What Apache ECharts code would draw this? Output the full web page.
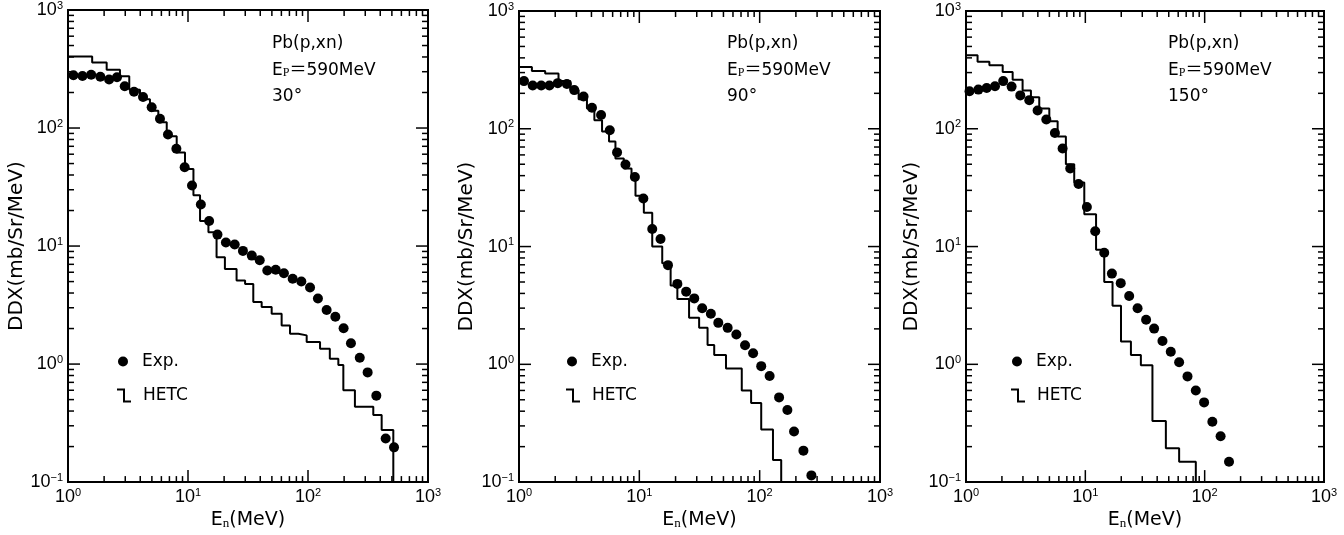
<!DOCTYPE html>
<html>
<head>
<meta charset="utf-8">
<script src="https://cdn.jsdelivr.net/npm/echarts@6/dist/echarts.min.js"></script>
<style>
  html, body { margin: 0; padding: 0; background: #fff; }
  #container { width: 1344px; height: 535px; }
</style>
</head>
<body>
<div id="container"></div>
<script>
// Pb(p,xn) a 590 MeV: DDX medido (Exp.) frente al calculo HETC, tres angulos
var angles = ['30°', '90°', '150°'];

// Exp. 30 grados
var exp30X = [1.11, 1.32, 1.56, 1.86, 2.2, 2.56, 2.97, 3.55, 4.22, 4.98, 5.84, 6.81, 8.0, 9.38, 10.8, 12.8, 15.0, 17.6, 20.7, 24.5,
  28.7, 34, 39.6, 45.8, 53.8, 63, 74.5, 88, 104, 121, 143, 169, 198, 228, 270, 314, 371, 444, 521];
var exp30Y = [280, 276, 283, 272, 258, 269, 226, 203, 183, 150, 120, 88, 66.7, 46.6, 32.6, 22.5, 16.3, 12.5, 10.7, 10.3,
  9.1, 8.3, 7.57, 6.2, 6.29, 5.88, 5.28, 5.01, 4.45, 3.6, 2.87, 2.52, 2.01, 1.5, 1.13, 0.85, 0.54, 0.234, 0.197];
// HETC 30 grados (bordes de bin y valores)
var hetc30Edges = [1, 1.59, 2.1, 2.71, 3.24, 3.98, 4.82, 5.66, 6.65, 8.05, 9.44, 11.1, 12.6, 14.8, 17.3, 20.3, 25.4, 29.9, 35, 41.1,
  49.8, 60.3, 70.8, 83, 97.5, 126, 152, 179, 197, 246, 350, 411, 514];
var hetc30Vals = [404, 359, 312, 274, 211, 175, 140, 112, 85, 62, 45, 27, 16.3, 13.1, 8.04, 6.4, 5.1, 4.77, 3.35, 3.04,
  2.67, 2.12, 1.81, 1.75, 1.54, 1.35, 1.11, 0.98, 0.60, 0.435, 0.37, 0.276];

// Exp. 90 grados
var exp90X = [1.10, 1.30, 1.53, 1.79, 2.10, 2.50, 2.88, 3.44, 4.04, 4.81, 5.68, 6.53, 7.67, 9.18, 10.8, 12.8, 15.0, 17.3, 20.7, 24.5,
  28.6, 33.3, 39.3, 45.3, 54.2, 64, 75.6, 88.2, 103, 121, 145, 170, 193, 231, 269];
var exp90Y = [254, 233, 233, 233, 244, 240, 213, 188, 151, 131, 97, 63, 49.7, 38.9, 25.6, 14.1, 11.6, 6.95, 4.82, 4.14,
  3.63, 2.99, 2.69, 2.25, 2.04, 1.79, 1.45, 1.24, 0.965, 0.796, 0.524, 0.41, 0.269, 0.185, 0.114];
var hetc90Edges = [1, 1.28, 1.65, 2.13, 2.67, 3.13, 3.67, 4.23, 4.9, 5.6, 6.33, 7.43, 8.61, 9.29, 10.9, 12.8, 15.5, 18.2, 20.7, 25.9,
  31.4, 36.9, 41.9, 52.5, 71, 84.9, 103, 129, 151];
var hetc90Vals = [335, 310, 294, 254, 213, 178, 149, 118, 95, 78, 56, 46, 40, 27, 19.4, 10, 7.2, 4.67, 3.58, 2.49,
  2.04, 1.46, 1.2, 0.92, 0.6, 0.47, 0.279, 0.154];

// Exp. 150 grados
var exp150X = [1.07, 1.27, 1.49, 1.75, 2.05, 2.41, 2.85, 3.39, 3.98, 4.71, 5.56, 6.45, 7.47, 8.77, 10.3, 12.1, 14.4, 16.7, 19.8, 23.3,
  27.4, 32.3, 37.7, 44.3, 52, 61.1, 71.8, 84.3, 98.9, 116, 136, 160];
var exp150Y = [208, 215, 222, 230, 254, 228, 192, 175, 143, 120, 92, 68, 46, 34, 21.7, 13.5, 8.87, 5.89, 4.89, 3.8,
  2.99, 2.39, 2.01, 1.58, 1.28, 1.04, 0.79, 0.6, 0.475, 0.325, 0.245, 0.149];
var hetc150Edges = [1, 1.25, 1.57, 2.03, 2.46, 2.98, 3.5, 4.11, 4.99, 5.86, 6.87, 8.07, 9.8, 12.3, 14.4, 16.9, 19.9, 24.1, 29.2, 36.5,
  47.3, 61.1, 84.3];
var hetc150Vals = [422, 370, 347, 303, 261, 211, 185, 149, 116, 86, 50, 35, 18.8, 9.4, 5.0, 3.14, 1.56, 1.2, 0.98, 0.33,
  0.194, 0.149];

// ejes
var xDecades = [1, 10, 100, 1000];
var yDecades = [0.1, 1, 10, 100, 1000];
var minorSteps = [2, 3, 4, 5, 6, 7, 8, 9];

var expX = [exp30X, exp90X, exp150X];
var expY = [exp30Y, exp90Y, exp150Y];
var hetcEdges = [hetc30Edges, hetc90Edges, hetc150Edges];
var hetcVals = [hetc30Vals, hetc90Vals, hetc150Vals];

var FONT = 'Liberation Sans, Arial, sans-serif';
var WIDE = 'DejaVu Sans, sans-serif';
var X_MIN = 1, X_MAX = 1000, Y_MIN = 0.1, Y_MAX = 1000;

function powLabel(v) {
    var e = Math.round(Math.log(v) / Math.LN10);
    return '{b|10}{s|' + (e < 0 ? '\u2212' + (-e) : e) + '}';
}
var powRich = {
    b: { fontSize: 18, fontFamily: FONT, color: '#000', lineHeight: 20 },
    s: { fontSize: 11, fontFamily: FONT, color: '#000', verticalAlign: 'top', lineHeight: 12 }
};

function tickList(decades, isX) {
    var out = [];
    decades.forEach(function (d, i) {
        out.push(isX ? [d, 1, 1] : [1, d, 1]);
        if (i < decades.length - 1) {
            minorSteps.forEach(function (m) {
                var v = d * m;
                out.push(isX ? [v, 1, 0] : [1, v, 0]);
            });
        }
    });
    return out;
}

function tickLine(x1, y1, x2, y2) {
    return { type: 'line', shape: { x1: x1, y1: y1, x2: x2, y2: y2 }, style: { stroke: '#000', lineWidth: 1.5 } };
}
function renderXTick(params, api) {
    var v = api.value(0), len = api.value(2) ? 12 : 6;
    var b = api.coord([v, Y_MIN]), t = api.coord([v, Y_MAX]);
    return { type: 'group', children: [tickLine(b[0], b[1], b[0], b[1] - len), tickLine(t[0], t[1], t[0], t[1] + len)] };
}
function renderYTick(params, api) {
    var v = api.value(1), len = api.value(2) ? 12 : 6;
    var l = api.coord([X_MIN, v]), r = api.coord([X_MAX, v]);
    return { type: 'group', children: [tickLine(l[0], l[1], l[0] + len, l[1]), tickLine(r[0], r[1], r[0] - len, r[1])] };
}

function stepData(edges, vals) {
    var pts = [];
    for (var i = 0; i < edges.length; i++) {
        pts.push([edges[i], vals[Math.min(i, vals.length - 1)]]);
    }
    // caida final por debajo del eje
    pts.push([edges[edges.length - 1], Y_MIN * 0.3]);
    return pts;
}

var grids = [
    { left: 68, top: 10, width: 360, height: 474 },
    { left: 519, top: 11, width: 361, height: 475 },
    { left: 966, top: 11, width: 358, height: 475 }
];
var yNameGap = [38, 42, 44];
var legendLeft = [118, 567, 1012];
var textLeft = [272, 727, 1168];

var xAxes = [], yAxes = [], series = [], legends = [], graphics = [];
grids.forEach(function (g, i) {
    g.show = true;
    g.borderColor = '#000';
    g.borderWidth = 2;
    xAxes.push({
        type: 'log', logBase: 10, gridIndex: i, min: X_MIN, max: X_MAX,
        name: '{a|E}{n|n}{a|(MeV)}', nameLocation: 'middle', nameGap: 27,
        nameTextStyle: {
            rich: {
                a: { fontSize: 19, fontFamily: WIDE, color: '#000' },
                n: { fontSize: 13, fontFamily: 'Liberation Serif, serif', color: '#000', verticalAlign: 'bottom' }
            }
        },
        axisLine: { show: true, lineStyle: { color: '#000', width: 2 } },
        axisTick: { show: false },
        splitLine: { show: false },
        axisLabel: { formatter: powLabel, rich: powRich, margin: 5, showMinLabel: true, showMaxLabel: true }
    });
    yAxes.push({
        type: 'log', logBase: 10, gridIndex: i, min: Y_MIN, max: Y_MAX,
        name: 'DDX(mb/Sr/MeV)', nameLocation: 'middle', nameGap: yNameGap[i], nameRotate: 90,
        nameTextStyle: { fontSize: 20, fontFamily: WIDE, color: '#000' },
        axisLine: { show: true, lineStyle: { color: '#000', width: 2 } },
        axisTick: { show: false },
        splitLine: { show: false },
        axisLabel: { formatter: powLabel, rich: powRich, margin: 5, showMinLabel: true, showMaxLabel: true }
    });

    var pts = expX[i].map(function (x, k) { return [x, expY[i][k]]; });
    series.push({
        name: 'Exp.', type: 'scatter', xAxisIndex: i, yAxisIndex: i,
        data: pts, symbol: 'circle', symbolSize: 10, itemStyle: { color: '#000', opacity: 1 }
    });
    series.push({
        name: 'HETC', type: 'line', xAxisIndex: i, yAxisIndex: i, step: 'end',
        data: stepData(hetcEdges[i], hetcVals[i]), showSymbol: false, symbol: 'none', clip: true,
        lineStyle: { color: '#000', width: 2 }, itemStyle: { color: '#000' }
    });
    series.push({
        type: 'custom', xAxisIndex: i, yAxisIndex: i, renderItem: renderXTick,
        data: tickList(xDecades, true), encode: { x: 0, y: 1 }, silent: true
    });
    series.push({
        type: 'custom', xAxisIndex: i, yAxisIndex: i, renderItem: renderYTick,
        data: tickList(yDecades, false), encode: { x: 0, y: 1 }, silent: true
    });

    legends.push({
        data: [{ name: 'Exp.', icon: 'circle' }], left: legendLeft[i], top: 353, padding: 0,
        itemWidth: 10, itemHeight: 10, selectedMode: false,
        textStyle: { fontSize: 17, fontFamily: WIDE, color: '#000', padding: [0, 0, 0, 9] }
    });
    legends.push({
        data: [{ name: 'HETC', icon: 'path://M0,0L8,0L8,12L14,12L14,14L6,14L6,2L0,2Z' }], left: legendLeft[i] - 1, top: 387, padding: 0,
        itemWidth: 14, itemHeight: 14, selectedMode: false,
        textStyle: { fontSize: 17, fontFamily: WIDE, color: '#000', padding: [0, 0, 0, 7] }
    });

    var txtStyle = { fontSize: 17, fontFamily: WIDE, fill: '#000' };
    graphics.push({ type: 'text', left: textLeft[i], top: 35, style: Object.assign({ text: 'Pb(p,xn)' }, txtStyle) });
    graphics.push({
        type: 'text', left: textLeft[i], top: 62,
        style: {
            text: '{a|E}{p|P}{a|\uFF1D590MeV}',
            rich: {
                a: { fontSize: 17, fontFamily: WIDE + ', Noto Sans CJK JP', color: '#000' },
                p: { fontSize: 12, fontFamily: 'Liberation Serif, serif', color: '#000', verticalAlign: 'bottom' }
            }
        }
    });
    graphics.push({ type: 'text', left: textLeft[i], top: 88, style: Object.assign({ text: angles[i] }, txtStyle) });
});

var dom = document.getElementById('container');
var myChart = echarts.init(dom);
myChart.setOption({
    animation: false,
    backgroundColor: '#fff',
    grid: grids,
    xAxis: xAxes,
    yAxis: yAxes,
    legend: legends,
    graphic: graphics,
    series: series
});
window.addEventListener('resize', myChart.resize);
</script>
</body>
</html>
